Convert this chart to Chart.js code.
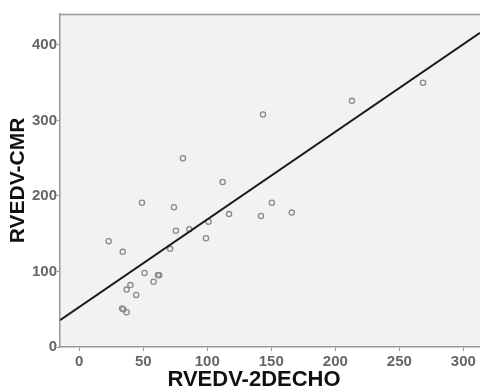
<!DOCTYPE html>
<html>
<head>
<meta charset="utf-8">
<script src="https://cdn.jsdelivr.net/npm/chart.js@4"></script>
<style>
  html, body { margin: 0; padding: 0; background: #fff; }
  #wrap { width: 480px; height: 387px; }
</style>
</head>
<body>
<div id="wrap"><canvas id="chart" width="480" height="387"></canvas></div>
<script>
// RVEDV measured by 2D echo (x) vs by CMR (y)
const echoValues = [49, 74, 23, 34, 75.5, 86, 101, 99, 117, 71, 51, 61.5, 62.5, 58, 40, 37, 44.5, 33.5, 34.5, 37,
  81, 112, 143.5, 213, 268.5, 150.5, 142, 166];
const cmrValues = [191, 185, 140, 126, 154, 156, 166, 144, 176, 130, 98, 95.5, 95, 86.5, 82, 76, 69, 51, 50, 46,
  250, 218.5, 308, 326, 350, 191, 173.5, 178];

const xTicks = [0, 50, 100, 150, 200, 250, 300];
const yTicks = [0, 100, 200, 300, 400];

const xTitle = 'RVEDV-2DECHO';
const yTitle = 'RVEDV-CMR';

// fitted regression line
const fitIntercept = 53;
const fitSlope = 1.16;

const xMin = -15, xMax = 313;
const yMin = 0, yMax = 441;

const tickFont = { family: "'Liberation Sans', Arial, sans-serif", size: 15, weight: 'bold' };
const titleFont = { family: "'Liberation Sans', Arial, sans-serif", size: 21, weight: 'bold' };

const plotBackground = {
  id: 'plotBackground',
  beforeDraw(chart) {
    const { ctx, chartArea: a } = chart;
    ctx.save();
    ctx.fillStyle = '#f2f2f2';
    ctx.fillRect(a.left, a.top, a.right - a.left, a.bottom - a.top);
    ctx.strokeStyle = '#999';
    ctx.lineWidth = 1.5;
    ctx.beginPath();
    ctx.moveTo(a.left, a.top + 0.5);
    ctx.lineTo(a.right, a.top + 0.5);
    ctx.stroke();
    ctx.restore();
  },
  // x title sits a bit left of the plot centre in the original
  afterDraw(chart) {
    const { ctx } = chart;
    ctx.save();
    ctx.font = "bold 22px 'Liberation Sans', Arial, sans-serif";
    ctx.fillStyle = '#111';
    ctx.textAlign = 'center';
    ctx.textBaseline = 'middle';
    ctx.fillText(xTitle, 254, 380);
    ctx.restore();
  }
};

const points = echoValues.map((x, i) => ({ x: x, y: cmrValues[i] }));
const fitLine = [xMin, xMax].map(x => ({ x: x, y: fitIntercept + fitSlope * x }));

new Chart(document.getElementById('chart'), {
  type: 'scatter',
  data: {
    datasets: [
      {
        data: fitLine,
        showLine: true,
        borderColor: '#1a1a1a',
        borderWidth: 2,
        pointRadius: 0,
        fill: false
      },
      {
        data: points,
        pointStyle: 'circle',
        pointRadius: 2.6,
        pointBorderWidth: 1.3,
        pointBorderColor: '#8a8a8a',
        pointBackgroundColor: 'rgba(0,0,0,0)'
      }
    ]
  },
  options: {
    responsive: false,
    animation: false,
    layout: { autoPadding: false, padding: { top: 14, right: 0, left: 0, bottom: 0 } },
    plugins: {
      legend: { display: false },
      tooltip: { enabled: false }
    },
    scales: {
      x: {
        type: 'linear',
        min: xMin,
        max: xMax,
        afterBuildTicks: s => { s.ticks = xTicks.map(v => ({ value: v })); },
        afterFit: s => { s.height = 40; s.paddingLeft = 0; s.paddingRight = 0; },
        grid: { drawOnChartArea: false, drawTicks: true, tickLength: 4, color: '#999' },
        border: { display: true, color: '#999', width: 1.5 },
        ticks: { font: tickFont, color: '#666', padding: 2, maxRotation: 0 },
        title: { display: false }
      },
      y: {
        type: 'linear',
        min: yMin,
        max: yMax,
        afterBuildTicks: s => { s.ticks = yTicks.map(v => ({ value: v })); },
        afterFit: s => { s.width = 60; s.paddingTop = 0; s.paddingBottom = 0; },
        grid: { drawOnChartArea: false, drawTicks: true, tickLength: 3, color: '#999' },
        border: { display: true, color: '#999', width: 1.5 },
        ticks: { font: tickFont, color: '#666', padding: 0 },
        title: {
          display: true,
          text: yTitle,
          font: titleFont,
          color: '#111',
          padding: { top: 6, bottom: 0 }
        }
      }
    }
  },
  plugins: [plotBackground]
});
</script>
</body>
</html>
